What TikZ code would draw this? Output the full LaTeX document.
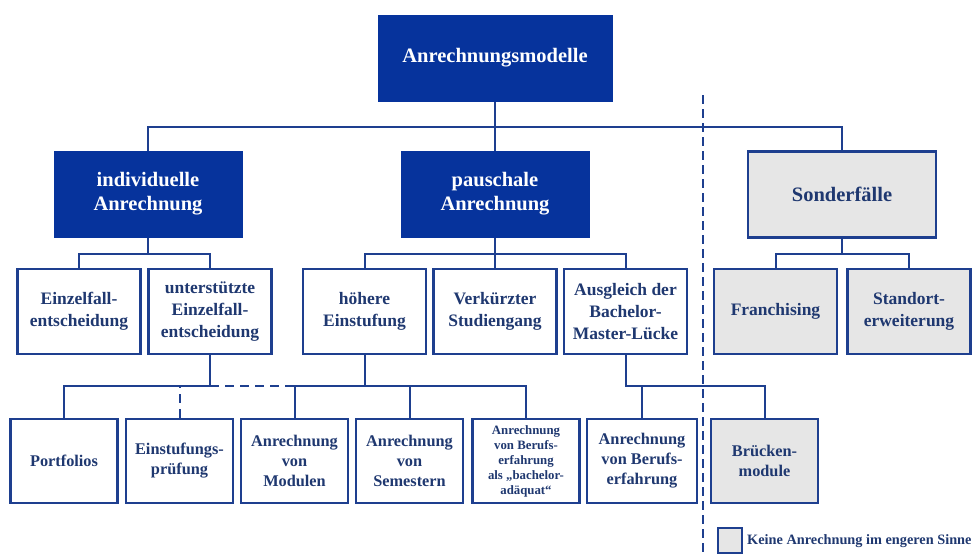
\documentclass[tikz,border=0pt]{standalone}
\usepackage{fontspec}
\setmainfont{Liberation Serif}
\usetikzlibrary{positioning}
\definecolor{darkbox}{HTML}{06339C}
\definecolor{linecol}{HTML}{1E3F8F}
\definecolor{txtcol}{HTML}{1F3870}
\definecolor{graybox}{HTML}{E6E6E6}
\tikzset{
  base/.style={rectangle, inner sep=0pt, align=center, font=\bfseries},
  lvlone/.style={base, fill=darkbox, draw=darkbox, line width=1pt, text=white,
     minimum width=188pt, minimum height=86pt, font=\bfseries\fontsize{20.5}{24}\selectfont},
  lvltwo/.style={base, fill=white, draw=linecol, line width=2.6pt, text=txtcol,
     minimum width=123pt, minimum height=85pt, font=\bfseries\fontsize{17.5}{22}\selectfont},
  lvlthree/.style={base, fill=white, draw=linecol, line width=2.6pt, text=txtcol,
     minimum width=107pt, minimum height=84pt, font=\bfseries\fontsize{16.3}{20}\selectfont},
  grayed/.style={fill=graybox},
  conn/.style={draw=linecol, line width=2pt},
  dashconn/.style={conn, dash pattern=on 9pt off 6pt},
  sepline/.style={draw=linecol, line width=2.2pt, dash pattern=on 9pt off 5pt}
}
\begin{document}
\begin{tikzpicture}[x=1pt,y=-1pt]
\useasboundingbox (0,0) rectangle (976,554);
% level 0
\node[lvlone, minimum width=234pt] (top) at (495,58) {Anrechnungsmodelle};
% level 1
\node[lvlone] (indiv) at (148,194) {individuelle\\Anrechnung};
\node[lvlone] (pausch) at (495,194) {pauschale\\Anrechnung};
\node[lvlone, grayed, draw=linecol, line width=2.6pt, text=txtcol] (sonder) at (842,194.5) {Sonderfälle};
% level 2
\node[lvltwo] (einzel) at (79,311.5) {Einzelfall-\\entscheidung};
\node[lvltwo] (unterst) at (210,311.5) {unterstützte\\Einzelfall-\\entscheidung};
\node[lvltwo] (hoehere) at (364.5,311.5) {höhere\\Einstufung};
\node[lvltwo] (verk) at (495,311.5) {Verkürzter\\Studiengang};
\node[lvltwo] (ausgl) at (625.5,311.5) {Ausgleich der\\Bachelor-\\Master-Lücke};
\node[lvltwo, grayed] (franch) at (775.5,311.5) {Franchising};
\node[lvltwo, grayed] (standort) at (909,311.5) {Standort-\\erweiterung};
% level 3
\node[lvlthree] (portf) at (64,461) {Portfolios};
\node[lvlthree] (einst) at (179.5,461) {Einstufungs-\\prüfung};
\node[lvlthree] (modul) at (294.5,461) {Anrechnung\\von\\Modulen};
\node[lvlthree] (semest) at (409.5,461) {Anrechnung\\von\\Semestern};
\node[lvlthree, font=\bfseries\fontsize{12.8}{15}\selectfont] (bachad) at (526,461) {Anrechnung\\von Berufs-\\erfahrung\\als „bachelor-\\adäquat“};
\node[lvlthree, minimum width=110pt] (beruf) at (642,461) {Anrechnung\\von Berufs-\\erfahrung};
\node[lvlthree, grayed] (bruecken) at (764.5,461) {Brücken-\\module};
% bus coordinates
\coordinate (b1) at (495,127);
\coordinate (b2) at (148,254);
\coordinate (b3) at (495,254);
\coordinate (b4) at (842,254);
\coordinate (b5) at (210,386);
\coordinate (b6) at (364.5,386);
\coordinate (b7) at (625.5,386);
% connectors
\draw[conn] (top.south) -- (b1) -- (pausch.north);
\draw[conn] (indiv.north) |- (b1) -| (sonder.north);
\draw[conn] (indiv.south) -- (b2);
\draw[conn] (einzel.north) |- (b2) -| (unterst.north);
\draw[conn] (pausch.south) -- (b3) -- (verk.north);
\draw[conn] (hoehere.north) |- (b3) -| (ausgl.north);
\draw[conn] (sonder.south) -- (b4);
\draw[conn] (franch.north) |- (b4) -| (standort.north);
\draw[conn] (unterst.south) -- (b5);
\draw[conn] (portf.north) |- (b5);
\draw[dashconn] (b5) -- (modul.north |- b5);
\draw[dashconn] (einst.north) -- (einst.north |- b5);
\draw[conn] (hoehere.south) -- (b6);
\draw[conn] (modul.north) |- (b6) -| (bachad.north);
\draw[conn] (semest.north) -- (semest.north |- b6);
\draw[conn] (ausgl.south) -- (b7) -| (bruecken.north);
\draw[conn] (beruf.north) -- (beruf.north |- b7);
% separator
\coordinate (sepT) at (703,95);
\coordinate (sepB) at (703,554);
\draw[sepline] (sepT) -- (sepB);
% legend
\node[base, fill=graybox, draw=linecol, line width=2.4pt, minimum width=24pt, minimum height=25pt] (legbox) at (730,540.5) {};
\node[base, anchor=west, text=txtcol, font=\bfseries\fontsize{14.3}{16}\selectfont] (legtxt) at (747,541) {Keine Anrechnung im engeren Sinne};
\end{tikzpicture}
\end{document}
